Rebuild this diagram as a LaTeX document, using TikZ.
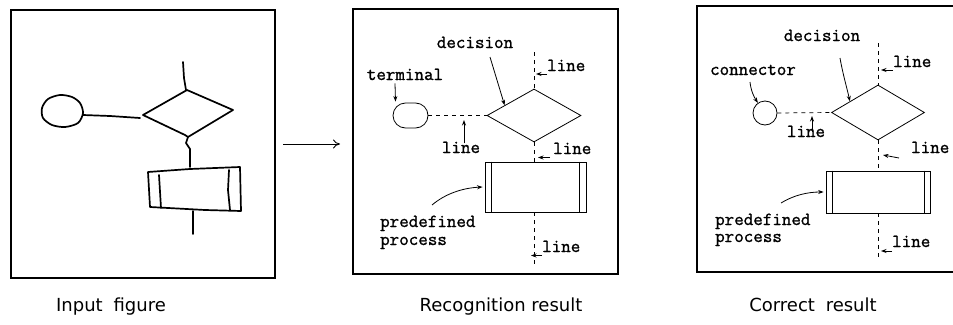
\documentclass[tikz,border=0pt]{standalone}
\usepackage{fontspec}
\setmainfont{DejaVu Sans}
\newfontfamily\lblfont[FakeBold=1.2]{Latin Modern Mono}
\usetikzlibrary{shapes.geometric,arrows.meta,calc}
\begin{document}
\begin{tikzpicture}[x=1pt,y=-1pt,
  panel/.style={draw,line width=1.2pt},
  hand/.style={line width=1.7pt,line join=round,line cap=round},
  shp/.style={draw,line width=0.8pt,inner sep=0pt},
  dline/.style={line width=0.7pt,dash pattern=on 4pt off 4pt},
  arr/.style={-{Stealth[length=5.5pt,width=4pt]},line width=0.8pt},
  lab/.style={font=\lblfont\fontsize{18.5}{19}\selectfont,inner sep=0pt},
  capt/.style={font=\fontsize{18}{20}\selectfont,inner sep=0pt,anchor=base}]
\useasboundingbox (0,0) rectangle (953,324);
\fill[white] (0,0) rectangle (953,324);

% ---------- panel 1: input figure ----------
\draw[panel] (11,10) rectangle (275,278);
\draw[hand] plot[smooth cycle] coordinates {(42,108) (48,99) (60,95) (72,97) (80,103) (83,113) (78,123) (65,127) (52,125) (43,118)};
\draw[hand] (83,115) -- (110,116) -- (140,118);
\draw[hand] (143,115) -- (187,90) -- (233,110) -- (188,137) -- (185,135) -- cycle;
\draw[hand] (183,62) -- (184,78) -- (186,90);
\draw[hand] (188,137) -- (186,143) -- (190,149) -- (190,167);
\draw[hand] (148,172) -- (190,169) -- (240,167) -- (241,211) -- (205,210) -- (150,207) -- cycle;
\draw[hand] (159,175) -- (161,208);
\draw[hand] (229,170) -- (228,190) -- (230,210);
\draw[hand] (193,211) -- (193,234);
\node[capt] (cap1) at (111,311) {Input\hspace{0.6em}figure};

% arrow between panels
\coordinate (ar1) at (283,144);
\coordinate (ar2) at (340,144);
\draw[line width=0.9pt,-{To[length=7pt,width=9pt]}] (ar1) -- (ar2);

% ---------- panel 2: recognition result ----------
\draw[panel] (353,9) rectangle (618,274);
\node[shp,rectangle,rounded corners=12.5pt,minimum width=35pt,minimum height=25pt] (term2) at (410.5,115.5) {};
\node[shp,diamond,minimum width=94pt,minimum height=53pt] (dia2) at (534,115.5) {};
\node[shp,rectangle,minimum width=101pt,minimum height=50pt] (proc2) at (535.5,187) {};
\draw[line width=0.8pt] ([xshift=7pt]proc2.north west) -- ([xshift=7pt]proc2.south west);
\draw[line width=0.8pt] ([xshift=-7pt]proc2.north east) -- ([xshift=-7pt]proc2.south east);
\coordinate (v2a) at (534,52);
\coordinate (v2b) at (534,267);
\draw[dline] (v2a) -- (dia2.north);
\draw[dline] (dia2.south) -- (dia2.south |- proc2.north);
\draw[dline] (dia2.south |- proc2.south) -- (v2b);
\draw[dline] (term2.east) -- (dia2.west);

\node[lab,anchor=base] (dec2) at (475,48) {decision};
\draw[arr] (490,57) -- ($(dia2.west)!0.38!(dia2.north)$);
\node[lab,anchor=base] (ter2) at (405,80) {terminal};
\draw[arr] ($(ter2.south)+(-10,3)$) -- ($(term2.north)+(-15,-1)$);
\node[lab,anchor=base] (ln2a) at (461,153) {line};
\coordinate (l2t) at (464,120);
\draw[arr] ($(ln2a.north -| l2t)+(0,2)$) -- (l2t);
\node[lab,anchor=base west] (ln2b) at (547,71) {line};
\draw[arr] ([yshift=-3pt]ln2b.base west) -- ([yshift=-3pt,xshift=2pt]ln2b.base west -| dia2.north);
\node[lab,anchor=base west] (ln2c) at (553,154) {line};
\draw[arr] ([yshift=-3.5pt,xshift=-3pt]ln2c.base west) -- ([yshift=-3.5pt,xshift=4pt]ln2c.base west -| dia2.south);
\node[lab,anchor=base west] (ln2d) at (542,252) {line};
\draw[arr] ([yshift=-3.5pt]ln2d.base west) -- ([yshift=-3.5pt]ln2d.base west -| 531,0);
\node[lab,anchor=base west] (pd2) at (380,227) {predefined};
\node[lab,anchor=base west] (pr2) at (380,245) {process};
\draw[arr] (432,205) .. controls (445,194) and (462,188) .. ([xshift=-2pt]proc2.west);

% ---------- panel 3: correct result ----------
\draw[panel] (697,6) rectangle (960,272);
\node[shp,circle,minimum size=24pt] (circ3) at (765,113) {};
\node[shp,diamond,minimum width=93pt,minimum height=55pt] (dia3) at (878,112.5) {};
\node[shp,rectangle,minimum width=104pt,minimum height=42pt] (proc3) at (878,192) {};
\draw[line width=0.8pt] ([xshift=7pt]proc3.north west) -- ([xshift=7pt]proc3.south west);
\draw[line width=0.8pt] ([xshift=-6pt]proc3.north east) -- ([xshift=-6pt]proc3.south east);
\coordinate (v3a) at (878,43);
\coordinate (v3b) at (878,260);
\draw[dline] (v3a) -- (dia3.north);
\draw[dline] (dia3.south) -- (proc3.north);
\draw[dline] (proc3.south) -- (v3b);
\draw[dline] (circ3.east) -- (dia3.west);

\node[lab,anchor=base] (dec3) at (822,41) {decision};
\draw[arr] (840,58) .. controls (843,75) and (847,88) .. ($(dia3.west)!0.4!(dia3.north)$);
\node[lab,anchor=base] (con3) at (753,75) {connector};
\draw[arr] (750,82) .. controls (751,91) and (754,97) .. (circ3.125);
\node[lab,anchor=base] (ln3a) at (806,137) {line};
\coordinate (l3t) at (812,116);
\draw[arr] (812,132) -- (l3t);
\node[lab,anchor=base west] (ln3b) at (893,67) {line};
\draw[arr] ([yshift=-3pt]ln3b.base west) -- ([yshift=-3pt,xshift=3pt]ln3b.base west -| dia3.north);
\node[lab,anchor=base west] (ln3c) at (911,153) {line};
\draw[arr] ([yshift=-5pt,xshift=-12pt]ln3c.base west) -- ([yshift=-2pt,xshift=5pt]ln3c.base west -| dia3.south);
\node[lab,anchor=base west] (ln3d) at (892,247) {line};
\draw[arr] ([yshift=-4pt]ln3d.base west) -- ([yshift=-4pt,xshift=3pt]ln3d.base west -| proc3.south);
\node[lab,anchor=base west] (pd3) at (715,225) {predefined};
\node[lab,anchor=base west] (pr3) at (715,242) {process};
\draw[arr] (781,203) .. controls (794,195) and (808,192) .. ([xshift=-2pt]proc3.west);

% ---------- captions ----------
\node[capt] (cap2) at (501,311) {Recognition result};
\node[capt] (cap3) at (813,311) {Correct\hspace{0.6em}result};
\end{tikzpicture}
\end{document}
